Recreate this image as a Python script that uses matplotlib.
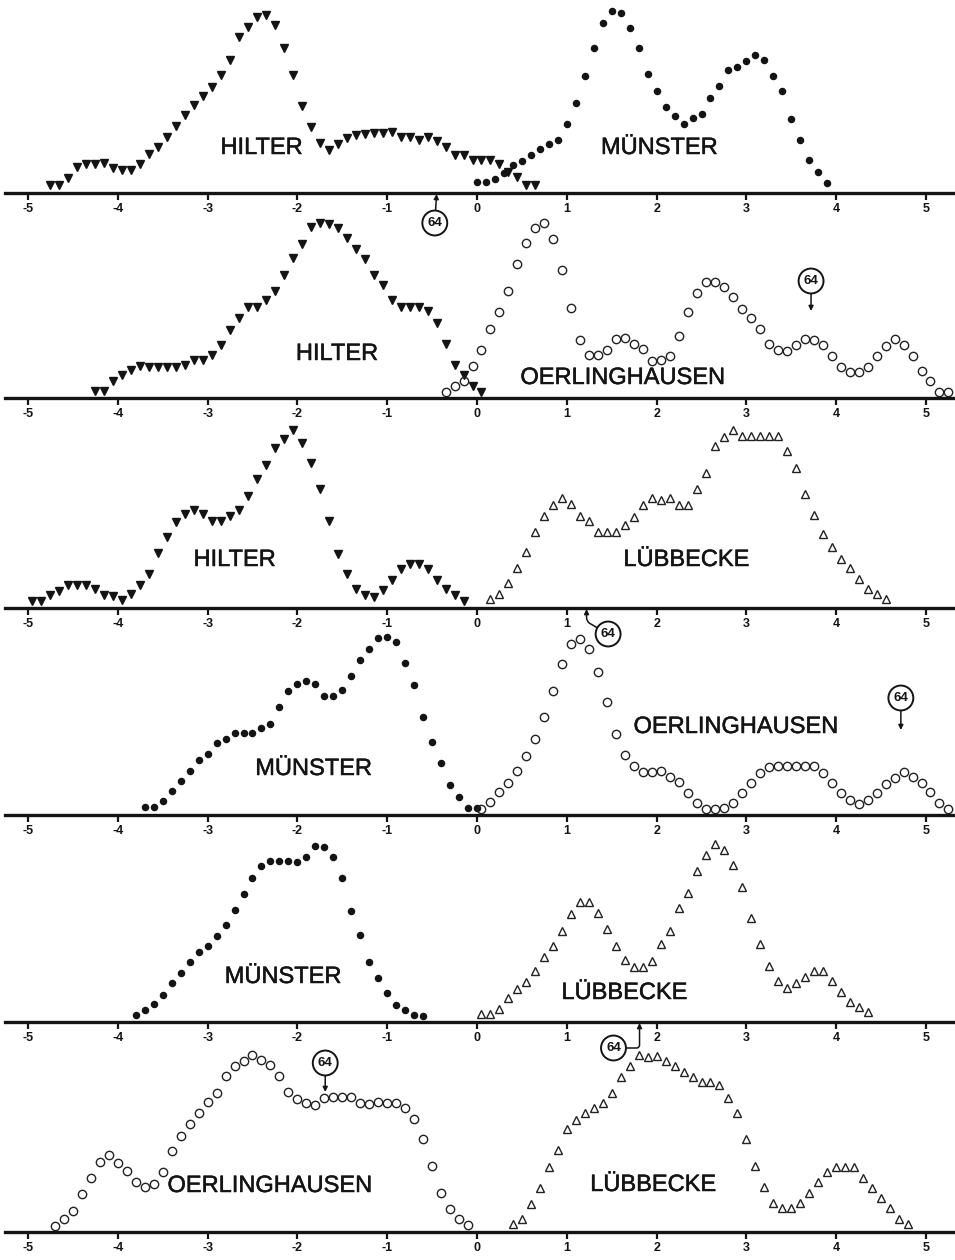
import numpy as np
import matplotlib
matplotlib.use("Agg")
import matplotlib.pyplot as plt
import matplotlib.patheffects as pe

plt.rcParams["font.family"] = ["Liberation Sans", "DejaVu Sans"]

# heights (arbitrary units), points every 0.1 on the axis
hilter1_start = -4.75
hilter1 = [8, 8, 15, 26, 29, 29, 30, 25, 23, 23, 29, 39, 46, 56, 67, 78, 88, 97, 106, 118,
           133, 156, 166, 176, 178, 168, 145, 118, 87, 66, 50, 43, 49, 55, 58, 59, 60, 60, 61, 56,
           56, 53, 56, 52, 46, 38, 38, 33, 33, 33, 29, 21, 16, 8, 8]
munster1_start = 0.0
munster1 = [11, 11, 14, 20, 28, 32, 38, 44, 49, 53, 69, 90, 117, 145, 170, 182, 180, 165, 145, 119,
            102, 86, 77, 69, 75, 79, 95, 107, 123, 126, 132, 138, 133, 117, 102, 74, 53, 33, 21, 10]

hilter2_start = -4.25
hilter2 = [7, 7, 17, 23, 28, 32, 31, 31, 31, 31, 33, 38, 38, 43, 53, 68, 80, 91, 91, 98,
           107, 123, 140, 154, 171, 175, 174, 170, 160, 149, 139, 123, 113, 98, 91, 91, 91, 87, 75, 54,
           33, 23, 12, 6]
oerl2_start = -0.35
oerl2 = [6, 12, 17, 32, 48, 69, 86, 107, 134, 155, 170, 175, 159, 128, 90, 58, 43, 43, 48, 59,
         60, 54, 49, 37, 38, 42, 62, 86, 105, 116, 116, 111, 101, 89, 80, 69, 54, 48, 47, 53,
         59, 58, 53, 42, 31, 26, 26, 31, 42, 52, 59, 53, 42, 27, 17, 6, 6]

hilter3_start = -4.95
hilter3 = [7, 7, 13, 17, 23, 23, 23, 19, 13, 12, 8, 14, 23, 34, 55, 71, 86, 94, 98, 94,
           87, 87, 92, 98, 112, 129, 143, 160, 169, 178, 165, 145, 119, 87, 54, 34, 19, 13, 11, 18,
           28, 39, 44, 44, 39, 28, 19, 13, 7]
lubb3_start = 0.15
lubb3 = [9, 14, 25, 40, 56, 76, 92, 103, 110, 104, 92, 87, 76, 76, 76, 83, 91, 103, 110, 108,
         110, 103, 103, 119, 135, 162, 171, 178, 172, 172, 172, 172, 172, 157, 140, 114, 93, 74, 61, 49,
         40, 29, 19, 14, 9]

munster4_start = -3.7
munster4 = [8, 8, 14, 24, 34, 44, 55, 61, 72, 76, 82, 82, 82, 87, 91, 108, 124, 131, 134, 131,
            119, 119, 125, 139, 155, 166, 177, 178, 173, 152, 130, 98, 73, 52, 30, 18, 7, 7]
oerl4_start = 0.05
oerl4 = [6, 13, 23, 32, 44, 59, 76, 98, 124, 151, 171, 176, 166, 143, 113, 81, 60, 49, 43, 43,
         44, 38, 33, 22, 12, 6, 6, 7, 12, 22, 32, 42, 48, 49, 49, 49, 49, 49, 42, 32,
         22, 15, 11, 15, 22, 31, 37, 43, 38, 32, 23, 12, 6]

munster5_start = -3.8
munster5 = [7, 12, 18, 27, 39, 49, 60, 70, 76, 86, 97, 112, 128, 144, 156, 161, 161, 161, 160, 165,
            176, 175, 165, 144, 111, 87, 60, 44, 29, 17, 12, 7, 6]
lubb5_start = 0.05
lubb5 = [8, 8, 13, 24, 33, 40, 51, 65, 76, 91, 108, 120, 120, 109, 93, 76, 62, 55, 55, 61,
         78, 91, 114, 129, 151, 167, 178, 172, 157, 135, 104, 78, 56, 41, 34, 39, 45, 51, 51, 41,
         30, 20, 15, 10]

oerl6_start = -4.7
oerl6 = [6, 13, 21, 38, 54, 70, 77, 69, 61, 50, 45, 48, 60, 81, 96, 108, 119, 130, 139, 156,
         166, 171, 177, 172, 167, 156, 140, 133, 129, 127, 134, 135, 135, 135, 129, 128, 130, 129, 129, 124,
         113, 93, 66, 39, 23, 13, 7]
lubb6_start = 0.4
lubb6 = [8, 13, 28, 44, 65, 82, 103, 112, 119, 124, 129, 139, 155, 166, 177, 175, 176, 171, 166, 160,
         155, 150, 150, 147, 134, 119, 93, 66, 45, 29, 24, 24, 29, 39, 50, 60, 65, 65, 65, 54,
         44, 34, 24, 13, 8]

ticks = [-5, -4, -3, -2, -1, 0, 1, 2, 3, 4, 5]
tick_labels = ["-5", "-4", "-3", "-2", "-1", "0", "1", "2", "3", "4", "5"]

INK = "#141414"
styles = {
    "tri_filled": dict(marker="v", ms=5.6, color=INK, mec=INK),
    "dot": dict(marker="o", ms=4.4, color=INK, mec=INK),
    "circle": dict(marker="o", ms=6.0, mfc="none", mec="#222222", mew=1.0),
    "tri_open": dict(marker="^", ms=6.0, mfc="none", mec="#222222", mew=1.0),
}

# (baseline in px from top, series, labels)
panels = [
    (193, [(hilter1, hilter1_start, "tri_filled"), (munster1, munster1_start, "dot")],
     [("HILTER", -2.40, 45), ("MÜNSTER", 2.03, 45)]),
    (398, [(hilter2, hilter2_start, "tri_filled"), (oerl2, oerl2_start, "circle")],
     [("HILTER", -1.56, 44), ("OERLINGHAUSEN", 1.62, 20)]),
    (608, [(hilter3, hilter3_start, "tri_filled"), (lubb3, lubb3_start, "tri_open")],
     [("HILTER", -2.70, 48), ("LÜBBECKE", 2.33, 48)]),
    (815, [(munster4, munster4_start, "dot"), (oerl4, oerl4_start, "circle")],
     [("MÜNSTER", -1.82, 46), ("OERLINGHAUSEN", 2.88, 88)]),
    (1022, [(munster5, munster5_start, "dot"), (lubb5, lubb5_start, "tri_open")],
     [("MÜNSTER", -2.16, 45), ("LÜBBECKE", 1.64, 29)]),
    (1232, [(oerl6, oerl6_start, "circle"), (lubb6, lubb6_start, "tri_open")],
     [("OERLINGHAUSEN", -2.31, 46), ("LÜBBECKE", 1.96, 47)]),
]

# "64" marks: panel index, arrow tip (x, h), text centre (x, h), connection style
marks = [
    (0, (-0.45, -1), (-0.47, -30), "arc3"),
    (1, (3.72, 87), (3.72, 117), "arc3"),
    (2, (1.22, -1), (1.46, -26), "angle,angleA=150,angleB=90,rad=4"),
    (3, (4.72, 85), (4.72, 117), "arc3"),
    (4, (1.81, -1), (1.52, -26), "angle,angleA=0,angleB=90,rad=3"),
    (5, (-1.69, 140), (-1.69, 169), "arc3"),
]

W, H = 955, 1260
fig = plt.figure(figsize=(W / 100, H / 100), dpi=100)
x0, px_per_unit = 477, 89.8
left_px = 5
thick = [pe.withStroke(linewidth=0.35, foreground=INK)]
axes = []
for base, series, labels in panels:
    ax = fig.add_axes([left_px / W, (H - base) / H, (W - left_px) / W, 185 / H])
    ax.set_xlim((left_px - x0) / px_per_unit, (W - x0) / px_per_unit)
    ax.set_ylim(0, 185)
    ax.patch.set_visible(False)
    for s in ["top", "left", "right"]:
        ax.spines[s].set_visible(False)
    ax.spines["bottom"].set_linewidth(2.4)
    ax.spines["bottom"].set_color(INK)
    ax.set_yticks([])
    ax.set_xticks(ticks)
    ax.set_xticklabels(tick_labels, fontsize=9, fontweight="bold")
    ax.tick_params(axis="x", direction="out", length=5, width=1.6, pad=2.5, colors=INK)
    for vals, start, st in series:
        xs = np.round(start + 0.1 * np.arange(len(vals)), 2)
        ax.plot(xs, vals, ls="none", clip_on=False, **styles[st])
    for name, lx, ly in labels:
        ax.text(lx, ly, name, ha="center", va="center", fontsize=17, color=INK,
                path_effects=thick)
    axes.append(ax)

for idx, tip, txt, conn in marks:
    axes[idx].annotate("64", xy=tip, xytext=txt, ha="center", va="center",
                       fontsize=9.5, fontweight="bold", color=INK, annotation_clip=False,
                       bbox=dict(boxstyle="circle,pad=0.38", fc="white", ec=INK, lw=1.4),
                       arrowprops=dict(arrowstyle="-|>", color=INK, lw=1.1, mutation_scale=7,
                                       shrinkA=0, shrinkB=0, connectionstyle=conn))

fig.savefig("out.png", dpi=100)
